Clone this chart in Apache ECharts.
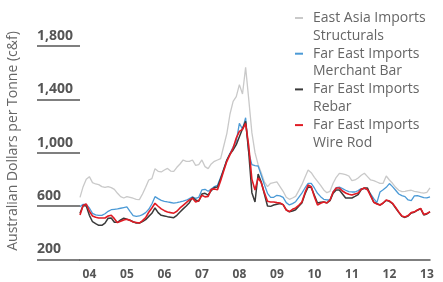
<!DOCTYPE html>
<html>
<head>
<meta charset="utf-8">
<script src="https://cdn.jsdelivr.net/npm/echarts@6/dist/echarts.min.js"></script>
<style>
html,body{margin:0;padding:0;background:#fff;}
#chart{width:443px;height:282px;}
</style>
</head>
<body>
<div id="chart"></div>
<script>
// Monthly categories, Apr 2004 .. Aug 2013
const months = [];
(function(){ let y = 2004, m = 4; while (months.length < 113) { months.push(y + '-' + (m < 10 ? '0' + m : m)); m++; if (m > 12) { m = 1; y++; } } })();

const seriesNames = [
  'East Asia Imports\nStructurals',
  'Far East Imports\nMerchant Bar',
  'Far East Imports\nRebar',
  'Far East Imports\nWire Rod'
];
const seriesColors = ['#c9c9c9', '#4b9ad6', '#3a3a3a', '#e01b24'];

const structurals = [665,745,800,820,775,765,760,745,740,745,738,725,695,670,660,670,665,658,650,648,
690,740,795,805,880,860,855,870,882,862,860,890,915,945,935,935,945,905,910,945,
895,880,915,935,945,955,1050,1145,1290,1385,1420,1510,1440,1640,1400,1150,1000,910,850,780,
745,770,775,780,745,710,665,650,660,672,715,760,815,870,850,815,785,755,720,700,
710,770,815,845,840,835,825,790,795,810,830,845,820,795,790,780,770,770,825,795,
770,740,718,708,710,715,718,710,705,700,697,702,735];

const merchantBar = [595,612,612,585,545,533,530,530,542,560,572,575,578,583,588,593,560,528,522,525,
535,550,575,615,670,655,642,635,630,626,621,625,630,636,643,655,668,657,665,720,
725,710,728,745,755,815,875,945,995,1042,1085,1220,1175,1262,1000,910,903,900,830,760,
695,665,665,680,676,665,625,608,618,632,665,697,735,770,770,735,695,670,650,645,
645,705,737,742,730,718,708,705,705,715,730,730,722,690,655,625,705,722,740,768,
745,718,690,678,670,645,640,675,678,670,662,660,668];

const rebar = [545,603,600,530,482,468,455,455,472,508,510,478,478,495,508,500,493,482,472,472,
483,497,522,545,585,550,530,525,520,516,512,530,555,578,600,625,665,645,635,690,
695,682,715,738,742,805,875,945,990,1020,1060,1120,1180,1235,1000,700,630,840,780,690,
600,597,607,613,618,610,570,556,562,572,598,622,690,742,738,680,622,628,630,624,
640,695,720,720,690,660,660,660,672,685,722,735,735,680,628,618,607,622,642,635,
618,585,552,522,514,525,547,553,568,580,533,540,555];

const wireRod = [532,603,615,560,525,515,510,510,510,525,530,505,475,485,495,500,492,480,476,472,
490,512,553,585,620,598,578,565,555,550,546,560,585,605,625,645,658,630,640,680,
668,672,725,728,722,790,865,935,985,1035,1110,1160,1175,1220,1050,800,720,810,775,700,
635,630,630,625,622,610,570,558,575,585,605,630,700,757,745,670,607,620,630,622,
645,705,735,735,712,697,688,682,690,697,725,735,722,675,628,615,607,622,645,638,
620,588,555,525,517,528,550,556,570,582,537,543,558];

const seriesValues = [structurals, merchantBar, rebar, wireRod];
const seriesWidths = [1.3, 1.3, 1.5, 1.6];

const yTicks = [200, 600, 1000, 1400, 1800];
const yTickLabels = ['200', '600', '1,000', '1,400', '1,800'];
const yearLabels = ['04','05','06','07','08','09','10','11','12','13'];
const axisTitle = 'Australian Dollars per Tonne (c&f)';

const chart = echarts.init(document.getElementById('chart'), null, {renderer: 'canvas'});

const legendGraphics = [];
seriesNames.forEach(function(n, k){
  const cy = 18 + 35.7 * k;
  legendGraphics.push({type:'rect', left:295, top:cy - 1, shape:{width:8, height:2}, style:{fill:seriesColors[k]}, silent:true});
  legendGraphics.push({type:'text', left:313, top:cy - 9, style:{text:n, font:'14px "Open Sans"', fill:'#666', lineHeight:17.8}, silent:true});
});

chart.setOption({
  animation: false,
  grid: [
    {left: 37, width: 43, top: 46, bottom: 22.7, containLabel: false},
    {left: 80, right: 13, top: 46, bottom: 22.7, containLabel: false}
  ],
  xAxis: [
    {gridIndex: 0, type: 'value', show: false, min: 0, max: 1},
    {gridIndex: 1, type: 'category', data: months, boundaryGap: false,
     axisLine: {show: true, lineStyle: {color: '#555', width: 1.5}},
     axisTick: {show: false},
     axisLabel: {
       interval: function(i){ return (i - 3) % 12 === 0; },
       formatter: function(v, i){ return yearLabels[(i - 3) / 12]; },
       margin: 9, fontFamily: 'Open Sans', fontWeight: 'bold', fontSize: 12, color: '#555'
     },
     splitLine: {show: false}}
  ],
  yAxis: [
    {gridIndex: 0, type: 'value', min: 200, max: 1800, interval: 400,
     axisLine: {show: false}, axisTick: {show: false},
     splitLine: {show: true, lineStyle: {color: '#555', width: 1.5}},
     axisLabel: {inside: true, margin: 0, align: 'left', verticalAlign: 'bottom', padding: [0,0,3,0],
       showMinLabel: true, showMaxLabel: true,
       formatter: function(v){ const i = yTicks.indexOf(v); return i >= 0 ? yTickLabels[i] : ''; },
       fontFamily: 'Open Sans', fontWeight: 'bold', fontSize: 14, color: '#555'}},
    {gridIndex: 1, type: 'value', min: 200, max: 1800, interval: 400, show: false}
  ],
  graphic: [
    {type:'text', left: 6, top: 'middle', rotation: Math.PI/2, silent:true,
     x: 15, y: 144,
     style:{text: axisTitle, font:'14px "Open Sans"', fill:'#666', textAlign:'center', textVerticalAlign:'middle'}}
  ].concat(legendGraphics),
  series: seriesNames.map(function(n, k){
    return {name: n, type: 'line', xAxisIndex: 1, yAxisIndex: 1, data: seriesValues[k],
      symbol: 'none', smooth: false, z: 2 + k,
      lineStyle: {color: seriesColors[k], width: seriesWidths[k]}};
  })
});
</script>
</body>
</html>
